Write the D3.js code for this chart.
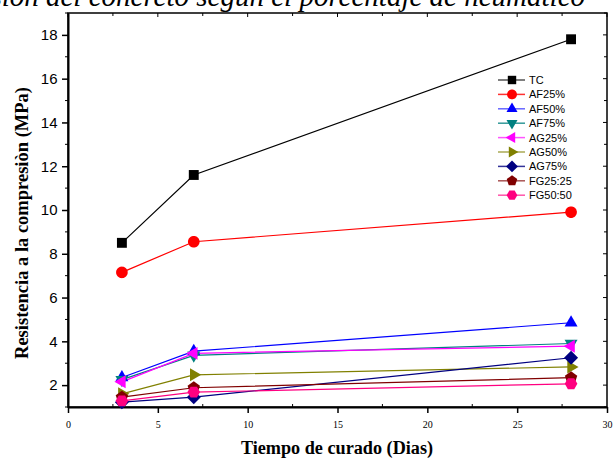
<!DOCTYPE html>
<html><head><meta charset="utf-8">
<script src="https://cdn.jsdelivr.net/npm/d3@7"></script>
<style>body{margin:0;background:#fff}svg{display:block}</style>
</head><body>
<script>
const days = [3, 7, 28];
const seriesNames = ["TC","AF25%","AF50%","AF75%","AG25%","AG50%","AG75%","FG25:25","FG50:50"];
const TC = [8.5, 11.6, 17.8];
const AF25 = [7.15, 8.55, 9.9];
const AF50 = [2.35, 3.55, 4.85];
const AF75 = [2.25, 3.36, 3.9];
const AG25 = [2.15, 3.45, 3.78];
const AG50 = [1.6, 2.47, 2.83];
const AG75 = [1.22, 1.45, 3.25];
const FG2525 = [1.45, 1.88, 2.34];
const FG5050 = [1.28, 1.68, 2.06];
const values = [TC, AF25, AF50, AF75, AG25, AG50, AG75, FG2525, FG5050];
const colors = ["#000000","#ff0000","#0000ff","#008080","#ff00ff","#808000","#000080","#800000","#ff0080"];
const legendLine = ["#555","#ff3030","#6666ff","#339999","#ff55ff","#aaaa55","#333399","#aa5555","#ff55aa"];
const xTicks = [0,5,10,15,20,25,30];
const yTicks = [2,4,6,8,10,12,14,16,18];
const title = "Resistencia a la compresión del concreto según el porcentaje de neumático";

const W = 614, H = 461;
const m = {l:68, r:607, t:13, b:407};
const svg = d3.select("body").append("svg").attr("width", W).attr("height", H);
const x = d3.scaleLinear().domain([0,30]).range([m.l, m.r]);
const y = d3.scaleLinear().domain([1,19]).range([m.b, m.t]);

// title (cut off at top)
svg.append("text").attr("x", 585).attr("y", 6).attr("text-anchor","end")
  .attr("font-family","Liberation Serif, serif").attr("font-style","italic")
  .attr("font-size", 29).attr("fill","#000").text(title);

// frame
svg.append("rect").attr("x", m.l).attr("y", m.t).attr("width", m.r-m.l).attr("height", m.b-m.t)
  .attr("fill","none").attr("stroke","#000").attr("stroke-width",1.5);

const minorX = d3.range(2.5, 30, 5);
const minorY = d3.range(1, 19.01, 2);

// bottom axis
const gx = svg.append("g").attr("transform", `translate(0,${m.b})`)
  .call(d3.axisBottom(x).tickValues(xTicks).tickSize(6).tickSizeOuter(0).tickFormat(d3.format("d")));
gx.select(".domain").attr("stroke-width",2);
gx.selectAll(".tick line").attr("stroke-width",1.5);
gx.selectAll("text").attr("font-family","Liberation Serif, serif").attr("font-size",10).attr("dy","1.2em");
svg.append("g").selectAll("line").data(minorX).join("line")
  .attr("x1", d=>x(d)).attr("x2", d=>x(d)).attr("y1", m.b).attr("y2", m.b-3).attr("stroke","#000");
// top ticks
svg.append("g").selectAll("line").data(xTicks.concat(minorX)).join("line")
  .attr("x1", d=>x(d)).attr("x2", d=>x(d)).attr("y1", m.t).attr("y2", d=>m.t+(d%5===0?4:3)).attr("stroke","#000");

// left axis
const gy = svg.append("g").attr("transform", `translate(${m.l},0)`)
  .call(d3.axisLeft(y).tickValues(yTicks).tickSize(6).tickSizeOuter(0));
gy.select(".domain").attr("stroke-width",2);
gy.selectAll(".tick line").attr("stroke-width",1.5);
gy.selectAll("text").attr("font-family","Liberation Sans, Arial, sans-serif").attr("font-size",15).attr("dx","-0.1em");
svg.append("g").selectAll("line").data(minorY).join("line")
  .attr("x1", m.l).attr("x2", m.l-3).attr("y1", d=>y(d)).attr("y2", d=>y(d)).attr("stroke","#000");
// right ticks
svg.append("g").selectAll("line").data(yTicks.concat(minorY)).join("line")
  .attr("x1", m.r).attr("x2", d=>m.r-(d%2===0?4:3)).attr("y1", d=>y(d)).attr("y2", d=>y(d)).attr("stroke","#000");

// axis labels
svg.append("text").attr("transform", `translate(28,223) rotate(-90)`).attr("text-anchor","middle")
  .attr("font-family","Liberation Serif, serif").attr("font-weight","bold").attr("font-size",18.5)
  .text("Resistencia a la compresiòn (MPa)");
svg.append("text").attr("x", 337).attr("y", 454).attr("text-anchor","middle")
  .attr("font-family","Liberation Serif, serif").attr("font-weight","bold").attr("font-size",18.2)
  .text("Tiempo de curado (Dias)");

// marker shapes
function polygon(n, r, rot) {
  const pts = [];
  for (let i=0;i<n;i++){ const a = rot + i*2*Math.PI/n; pts.push([r*Math.cos(a), r*Math.sin(a)]); }
  return "M" + pts.map(p=>p.join(",")).join("L") + "Z";
}
const markers = [
  polygon(4, 7, Math.PI/4),          // square
  polygon(40, 5.8, 0),               // circle
  polygon(3, 7.5, -Math.PI/2),       // triangle up
  polygon(3, 7.5, Math.PI/2),        // triangle down
  polygon(3, 7.5, Math.PI),          // triangle left
  polygon(3, 7.5, 0),                // triangle right
  polygon(4, 7, 0),                  // diamond
  polygon(5, 6.5, -Math.PI/2),       // pentagon
  polygon(6, 6.3, 0)                 // hexagon
];

const line = d3.line().x((d,i)=>x(days[i])).y(d=>y(d));
const g = svg.append("g");
values.forEach((vals, k) => {
  g.append("path").datum(vals).attr("d", line).attr("fill","none").attr("stroke", colors[k]).attr("stroke-width",1.2);
});
values.forEach((vals, k) => {
  g.selectAll(null).data(vals).join("path")
    .attr("transform", (d,i)=>`translate(${x(days[i])},${y(d)})`)
    .attr("d", markers[k]).attr("fill", colors[k]);
});

// legend
const lg = svg.append("g");
seriesNames.forEach((n, k) => {
  const yy = 80 + k*14.4;
  lg.append("line").attr("x1",498).attr("x2",525).attr("y1",yy).attr("y2",yy).attr("stroke",legendLine[k]).attr("stroke-width",1.5);
  lg.append("path").attr("transform",`translate(512,${yy}) scale(0.85)`).attr("d", markers[k]).attr("fill", colors[k]);
  lg.append("text").attr("x",529).attr("y",yy+4).attr("font-family","Liberation Sans, Arial, sans-serif")
    .attr("font-size",11).text(n);
});
</script>
</body></html>
